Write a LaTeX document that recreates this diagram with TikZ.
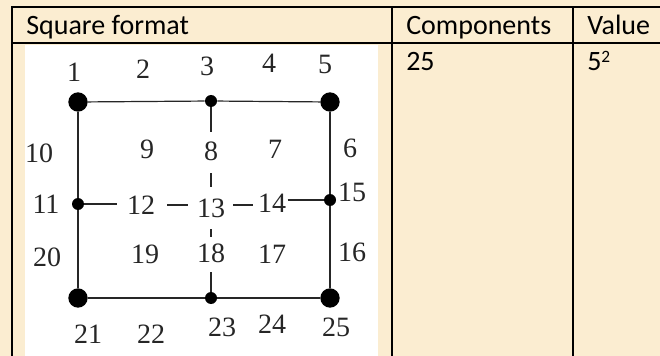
\documentclass[tikz,border=0pt]{standalone}
\usepackage{fontspec}
\setmainfont{Carlito}
\newfontfamily\numfont{Liberation Serif}
\usetikzlibrary{calc}
\definecolor{parchment}{RGB}{251,237,209}

\begin{document}
\begin{tikzpicture}[
    x=0.75pt,
    y=-0.75pt,
    tablerule/.style={draw=black, line width=1.5pt},
    edge/.style={-, draw=black!85, line width=0.9pt},
    bigdot/.style={circle, fill=black, inner sep=0pt, minimum size=14.5pt},
    smalldot/.style={circle, fill=black, inner sep=0pt, minimum size=9pt},
    num/.style={font=\numfont\fontsize{21}{25}\selectfont, inner sep=0pt, text=black!85},
    cell/.style={font=\fontsize{21}{25}\selectfont, anchor=base west, inner sep=0pt}
]
\useasboundingbox (0,0) rectangle (660,356);
\fill[parchment] (0,0) rectangle (660,356);
\fill[white] (25,45) rectangle (378,356);

% table frame
\draw[tablerule] (12,356) -- (12,7) -- (660,7);
\draw[tablerule] (12,43) -- (660,43);
\draw[tablerule] (392,7) -- (392,356);
\draw[tablerule] (573,7) -- (573,356);

% table texts
\node[cell] (hsquare) at (26,35) {Square format};
\node[cell] (hcomp)   at (406,35) {Components};
\node[cell] (hvalue)  at (587,35) {Value};
\node[cell] (ccomp)   at (406,71) {25};
\node[cell] (cvalue)  at (587,71) {5\raisebox{6pt}{\fontsize{13}{13}\selectfont 2}};

% dots of the square
\node[bigdot]   (n1)  at (78,102) {};
\node[smalldot] (n3)  at (211,101) {};
\node[bigdot]   (n5)  at (330,102) {};
\node[smalldot] (n11) at (78,204) {};
\node[smalldot] (n15) at (330,200) {};
\node[bigdot]   (n21) at (78,298) {};
\node[smalldot] (n23) at (211,298) {};
\node[bigdot]   (n25) at (330,298) {};

% numbers
\node[num] (l1)  at (74,72)  {1};
\node[num] (l2)  at (143,69) {2};
\node[num] (l3)  at (207,66) {3};
\node[num] (l4)  at (269,63) {4};
\node[num] (l5)  at (325,64) {5};
\node[num] (l10) at (39,153) {10};
\node[num] (l9)  at (147,149) {9};
\node[num] (l8)  at (211,151) {8};
\node[num] (l7)  at (275,149) {7};
\node[num] (l6)  at (350,148) {6};
\node[num] (l11) at (46,204) {11};
\node[num] (l12) at (141,205) {12};
\node[num] (l13) at (211,208) {13};
\node[num] (l14) at (272,203) {14};
\node[num] (l15) at (352,192) {15};
\node[num] (l20) at (47,257) {20};
\node[num] (l19) at (145,254) {19};
\node[num] (l18) at (211,253) {18};
\node[num] (l17) at (272,254) {17};
\node[num] (l16) at (352,252) {16};
\node[num] (l21) at (88,334) {21};
\node[num] (l22) at (151,334) {22};
\node[num] (l23) at (222,327) {23};
\node[num] (l24) at (272,324) {24};
\node[num] (l25) at (336,327) {25};

% outer square
\draw[edge] (n1) -- (n3) -- (n5);
\draw[edge] (n1) -- (n11) -- (n21);
\draw[edge] (n5) -- (n15) -- (n25);
\draw[edge] (n21) -- (n23) -- (n25);

% middle column
\draw[edge, shorten >=7pt] (n3) -- (l8);
\draw[edge, shorten <=9.5pt, shorten >=8.5pt] (l8) -- (l13);
\draw[edge, shorten <=8.5pt, shorten >=5pt] (l13) -- (l18);
\draw[edge, shorten <=7pt] (l18) -- (n23);

% middle row
\draw[edge, shorten >=7pt] (n11) -- (l12.west |- n11);
\draw[edge, shorten <=9pt, shorten >=6.5pt] (l12.east) -- (l13.west |- l12.east);
\draw[edge, shorten <=6pt, shorten >=3.5pt] (l13.east |- l12.east) -- (l14.west |- l12.east);
\draw[edge, shorten <=1pt] (l14.east |- n15) -- (n15);

\end{tikzpicture}
\end{document}
